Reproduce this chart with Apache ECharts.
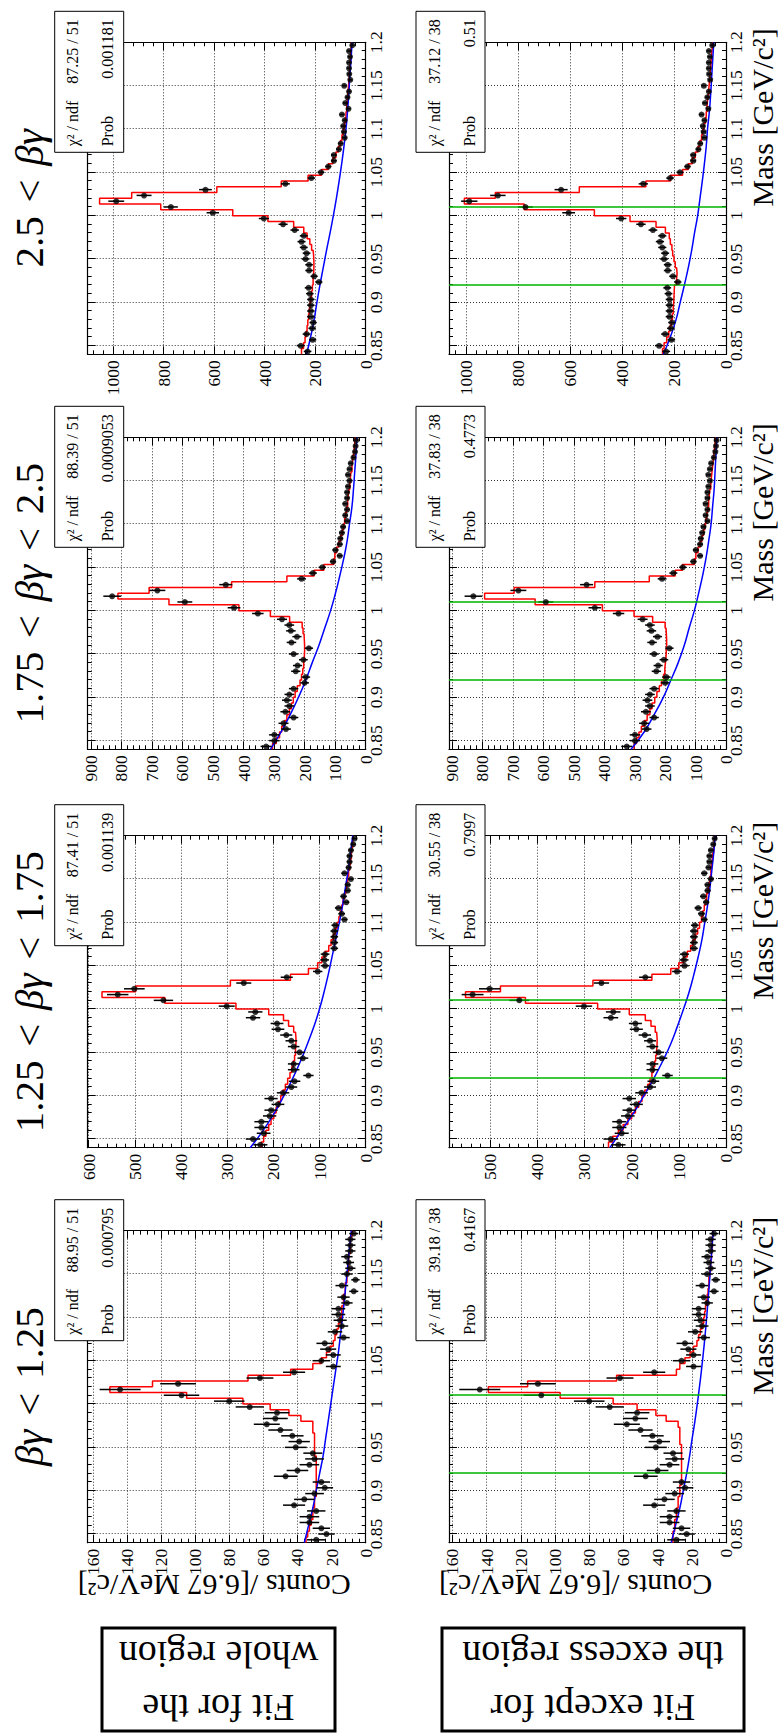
<!DOCTYPE html>
<html>
<head>
<meta charset="utf-8">
<script src="https://cdn.jsdelivr.net/npm/echarts@6/dist/echarts.min.js"></script>
<style>
html,body{margin:0;padding:0;background:#fff;width:778px;height:1733px;overflow:hidden;}
#chart{position:absolute;left:0;top:0;width:1733px;height:778px;transform-origin:0 0;transform:translateY(1733px) rotate(-90deg);}
</style>
</head>
<body>
<div id="chart"></div>
<script>
// ---------------- DATA ----------------
const massMin = 0.84, massMax = 1.2, nBins = 54;
const binTitles = ['βγ < 1.25', '1.25 < βγ < 1.75', '1.75 < βγ < 2.5', '2.5 < βγ'];
const rowLabels = [['Fit for the', 'whole region'], ['Fit except for', 'the excess region']];
const exclusionRange = [0.92, 1.00667];

// measured counts per 6.67 MeV bin (54 bins, 0.84 - 1.2 GeV)
const counts_bg0 = [29, 23, 26, 33, 33, 29, 42, 36, 30, 24, 26, 47, 40, 33, 30, 31, 41, 39, 43, 50, 58, 53, 52, 68, 80, 108, 144, 110, 62, 42, 19, 26, 19, 22, 24, 13, 18, 14, 15, 16, 16, 11, 13, 7, 14, 6, 11, 9, 10, 11, 9, 9, 9, 7];
const counts_bg1 = [228, 244, 221, 226, 226, 208, 205, 190, 205, 179, 161, 154, 124, 156, 156, 136, 143, 156, 161, 172, 190, 192, 244, 239, 301, 438, 537, 501, 264, 171, 104, 88, 89, 88, 68, 68, 68, 68, 66, 46, 52, 59, 42, 48, 39, 39, 32, 46, 37, 35, 35, 32, 27, 24];
const counts_bg2 = [326, 299, 299, 261, 269, 236, 263, 250, 258, 250, 236, 200, 196, 229, 223, 204, 236, 186, 243, 225, 245, 250, 274, 353, 431, 592, 830, 682, 458, 210, 173, 142, 107, 85, 99, 85, 83, 78, 74, 61, 67, 61, 67, 61, 61, 58, 53, 58, 53, 49, 40, 35, 33, 31];
const counts_bg3 = [230, 257, 210, 234, 212, 208, 217, 217, 217, 217, 221, 226, 185, 204, 224, 224, 238, 234, 245, 254, 245, 281, 327, 403, 605, 771, 987, 877, 634, 318, 215, 177, 148, 126, 126, 106, 99, 83, 86, 89, 83, 94, 68, 81, 72, 66, 85, 61, 65, 66, 66, 62, 66, 53];

// fitted total (red, per bin)
const fitWhole_bg0 = [35, 34, 33, 32, 31, 31, 30, 30, 29, 29, 29, 29, 29, 29, 29, 30, 30, 30, 30, 31, 31, 38, 45, 56, 72, 105, 150, 125, 69, 44, 31, 26, 23, 21, 19, 18, 17, 16, 15, 14, 14, 13, 13, 12, 12, 11, 11, 10, 10, 10, 9, 9, 9, 8];
const fitExcl_bg0 = [31, 31, 30, 30, 29, 29, 28, 28, 27, 27, 26, 26, 26, 26, 26, 26, 26, 27, 27, 27, 28, 35, 41, 52, 66, 97, 139, 116, 64, 29, 27, 24, 21, 19, 17, 16, 15, 14, 13, 12.5, 12, 11.5, 11, 10.5, 10, 10, 9.5, 9, 9, 8.5, 8.5, 8, 8, 7.5];
const fitWhole_bg1 = [226, 221, 216, 210, 205, 199, 194, 189, 184, 179, 174, 169, 164, 160, 157, 154, 152, 151, 151, 152, 156, 167, 178, 210, 281, 435, 571, 498, 293, 163, 124, 104, 95, 88, 80, 75, 70, 66, 62, 58, 55, 52, 49, 46, 43, 41, 39, 37, 35, 33, 31, 30, 28, 27];
const fitExcl_bg1 = [249, 240, 228, 218, 208, 200, 192, 185, 178, 172, 166, 161, 157, 154, 151, 149, 147, 146, 146, 147, 150, 159, 171, 205, 272, 425, 552, 478, 282, 157, 117, 100, 90, 82, 75, 70, 65, 60, 56, 52, 49, 46, 43, 41, 38, 36, 34, 32, 31, 29, 28, 26, 25, 24];
const fitWhole_bg2 = [305, 293, 282, 275, 266, 258, 250, 243, 237, 231, 224, 215, 210, 206, 203, 201, 200, 200, 201, 202, 205, 208, 249, 312, 415, 644, 811, 709, 439, 258, 169, 137, 105, 101, 95, 88, 82, 77, 73, 69, 66, 62, 59, 57, 55, 52, 50, 48, 45, 43, 41, 38, 36, 34];
const fitExcl_bg2 = [302, 294, 286, 278, 268, 259, 250, 243, 234, 227, 219, 212, 205, 201, 199, 197, 196, 195, 195, 196, 197, 200, 241, 302, 406, 627, 793, 696, 431, 252, 167, 143, 104, 99, 92, 85, 79, 74, 70, 66, 63, 60, 57, 55, 53, 50, 48, 46, 44, 42, 40, 38, 36, 34];
const fitWhole_bg3 = [254, 246, 240, 236, 232, 229, 226, 223, 220, 217, 214, 211, 208, 206, 205, 205, 206, 208, 214, 221, 232, 245, 285, 387, 526, 811, 1053, 926, 589, 334, 228, 175, 148, 130, 118, 108, 100, 94, 89, 85, 81, 78, 75, 73, 71, 69, 67, 65, 64, 62, 61, 60, 58, 56];
const fitExcl_bg3 = [244, 238, 228, 220, 215, 210, 206, 203, 201, 200, 199, 198, 190, 188, 190, 195, 200, 205, 208, 214, 218, 233, 269, 369, 506, 776, 1006, 887, 564, 308, 214, 167, 145, 130, 118, 108, 100, 94, 89, 85, 79, 76, 73, 71, 69, 66, 64, 62, 60, 58, 57, 55, 53, 52];

// background component (blue), sampled every 0.02 GeV
const bkgMass = [0.84, 0.86, 0.88, 0.90, 0.92, 0.94, 0.96, 0.98, 1.00, 1.02, 1.04, 1.06, 1.08, 1.10, 1.12, 1.14, 1.16, 1.18, 1.20];
const bkgWhole_bg0 = [36, 33.5, 31, 29, 27, 25, 23.5, 22, 20.5, 19, 17.5, 16, 14.8, 13.6, 12.5, 11.5, 10.5, 9.5, 8.5];
const bkgExcl_bg0 = [32, 29.5, 27, 25, 23, 21.3, 19.8, 18.2, 16.8, 15.5, 14.3, 13.2, 12.2, 11.3, 10.5, 9.7, 9.0, 8.2, 7.5];
const bkgWhole_bg1 = [250, 222, 198, 177, 158, 141, 126, 112, 100, 90, 81, 73, 65, 57, 50, 44, 38, 33, 28];
const bkgExcl_bg1 = [246, 221, 196, 174, 153, 134, 117, 103, 90, 78, 68, 59, 51, 45, 39, 34, 30, 26, 23];
const bkgWhole_bg2 = [312, 277, 247, 220, 196, 175, 153, 134, 115, 99, 85, 72, 61, 53, 45, 40, 36, 32, 29];
const bkgExcl_bg2 = [312, 269, 236, 206, 181, 157, 137, 121, 104, 90, 77, 66, 57, 49, 44, 39, 36, 33, 30];
const bkgWhole_bg3 = [234, 218, 204, 193, 181, 168, 155, 141, 128, 116, 105, 95, 86, 78, 72, 67, 63, 58, 54];
const bkgExcl_bg3 = [241, 214, 192, 176, 160, 145, 132, 121, 109, 100, 91, 83, 76, 71, 64, 59, 55, 51, 47];

const chi2Whole = ['88.95 / 51', '87.41 / 51', '88.39 / 51', '87.25 / 51'];
const probWhole = ['0.000795', '0.001139', '0.0009053', '0.001181'];
const chi2Excl = ['39.18 / 38', '30.55 / 38', '37.83 / 38', '37.12 / 38'];
const probExcl = ['0.4167', '0.7997', '0.4773', '0.51'];

const yMaxWhole = [163, 602, 910, 1100];
const yMaxExcl = [162, 587, 910, 1065];
const yStep = [20, 100, 100, 200];

const massTitle = 'Mass [GeV/c²]';
const countsTitle = 'Counts /[6.67 MeV/c²]';

// ---------------- LAYOUT (landscape frame, rotated by CSS) ----------------
const FONT = 'Liberation Serif, Times New Roman, serif';
const plotLeft = [190.3, 585.3, 983.7, 1378.7];
const plotW = 312;
const plotTop = [87.7, 449];
const plotH = [278, 277];

const counts = [counts_bg0, counts_bg1, counts_bg2, counts_bg3];
const fits = [[fitWhole_bg0, fitExcl_bg0], [fitWhole_bg1, fitExcl_bg1], [fitWhole_bg2, fitExcl_bg2], [fitWhole_bg3, fitExcl_bg3]];
const bkgs = [[bkgWhole_bg0, bkgExcl_bg0], [bkgWhole_bg1, bkgExcl_bg1], [bkgWhole_bg2, bkgExcl_bg2], [bkgWhole_bg3, bkgExcl_bg3]];
const yMax = [yMaxWhole, yMaxExcl];
const chi2 = [chi2Whole, chi2Excl];
const prob = [probWhole, probExcl];

const binWidth = (massMax - massMin) / nBins;

const grids = [], xAxes = [], yAxes = [], series = [], elements = [];

const tickLine = { color: '#000', width: 1 };
const frameLine = { color: '#000', width: 1.2 };
const gridLine = { color: '#333', width: 1, type: [1, 2] };
const labelStyle = { fontSize: 17.5, fontFamily: FONT, color: '#000' };

function massFmt(v) { return String(+v.toFixed(2)); }
function countFmt(v) { return String(Math.round(v)); }

for (let c = 0; c < 4; c++) {
  for (let r = 0; r < 2; r++) {
    const g = grids.length;
    grids.push({ left: plotLeft[c], top: plotTop[r], width: plotW, height: plotH[r], containLabel: false, outerBoundsMode: 'none', show: false });
    const xBase = {
      gridIndex: g, type: 'value', min: massMin, max: massMax, splitNumber: 7,
      axisLine: { show: true, onZero: false, lineStyle: frameLine },
      axisTick: { show: true, inside: true, length: 8, lineStyle: tickLine },
      minorTick: { show: true, splitNumber: 5, length: 4, lineStyle: tickLine },
      minorSplitLine: { show: false }
    };
    xAxes.push(Object.assign({}, xBase, {
      position: 'bottom',
      axisLabel: Object.assign({ show: true, showMinLabel: false, margin: 1, formatter: massFmt }, labelStyle),
      splitLine: { show: true, lineStyle: gridLine }
    }));
    xAxes.push(Object.assign({}, xBase, { position: 'top', axisLabel: { show: false }, splitLine: { show: false } }));
    const yBase = {
      gridIndex: g, type: 'value', min: 0, max: yMax[r][c], interval: yStep[c],
      axisLine: { show: true, onZero: false, lineStyle: frameLine },
      axisTick: { show: true, inside: true, length: 8, lineStyle: tickLine },
      minorTick: { show: true, splitNumber: 5, length: 4, lineStyle: tickLine },
      minorSplitLine: { show: false }
    };
    yAxes.push(Object.assign({}, yBase, {
      position: 'left',
      axisLabel: Object.assign({ show: true, showMinLabel: true, showMaxLabel: false, margin: 6, formatter: countFmt, hideOverlap: false }, labelStyle),
      splitLine: { show: true, lineStyle: gridLine }
    }));
    yAxes.push(Object.assign({}, yBase, { position: 'right', axisLabel: { show: false }, splitLine: { show: false } }));

    const xi = 2 * g, yi = 2 * g;
    const pts = counts[c].map((v, i) => [massMin + (i + 0.5) * binWidth, v]);
    // fitted total (red step)
    const f = fits[c][r];
    const stepData = f.map((v, i) => [massMin + i * binWidth, v]);
    stepData.push([massMax, f[f.length - 1]]);
    const redSeries = {
      type: 'line', xAxisIndex: xi, yAxisIndex: yi, data: stepData, step: 'end',
      showSymbol: false, symbol: 'none', lineStyle: { color: '#ff0000', width: 1.5 }, z: 3, silent: true
    };
    if (r === 1) {
      redSeries.markLine = {
        silent: true, symbol: 'none', label: { show: false },
        lineStyle: { color: '#00b400', width: 1.5, type: 'solid' },
        data: exclusionRange.map(v => ({ xAxis: v }))
      };
    }
    series.push(redSeries);
    // background (blue)
    series.push({
      type: 'line', xAxisIndex: xi, yAxisIndex: yi, smooth: true,
      data: bkgMass.map((m, i) => [m, bkgs[c][r][i]]),
      showSymbol: false, symbol: 'none', lineStyle: { color: '#0000ff', width: 1.5 }, z: 3, silent: true
    });
    // error bars (Poisson)
    series.push({
      type: 'custom', xAxisIndex: xi, yAxisIndex: yi, z: 4, silent: true,
      data: pts.map(p => [p[0], p[1], Math.sqrt(p[1])]),
      renderItem: function (params, api) {
        const x = api.value(0), y = api.value(1), e = api.value(2);
        const a = api.coord([x, y - e]), b = api.coord([x, y + e]);
        return { type: 'line', shape: { x1: a[0], y1: a[1], x2: b[0], y2: b[1] }, style: { stroke: '#000', lineWidth: 1.5 } };
      }
    });
    // data points
    series.push({
      type: 'scatter', xAxisIndex: xi, yAxisIndex: yi, data: pts, symbol: 'circle', symbolSize: 6,
      itemStyle: { color: '#000' }, z: 5, silent: true
    });

    // stat box
    const pr = plotLeft[c] + plotW;
    const pt = plotTop[r];
    elements.push({ type: 'rect', z: 100, shape: { x: pr - 110, y: pt - 33, width: 141, height: 69 },
      style: { fill: '#fff', stroke: '#000', lineWidth: 1 } });
    const st = (txt, x, y, al) => ({ type: 'text', z: 101, x: x, y: y,
      style: { text: txt, fontSize: 16, fontFamily: FONT, fill: '#000', align: al, textAlign: al, verticalAlign: 'middle', textVerticalAlign: 'middle' } });
    elements.push(st('χ² / ndf', pr - 104, pt - 15, 'left'));
    elements.push(st(chi2[r][c], pr + 23, pt - 15, 'right'));
    elements.push(st('Prob', pr - 104, pt + 20, 'left'));
    elements.push(st(prob[r][c], pr + 23, pt + 20, 'right'));

    if (r === 1) {
      elements.push({ type: 'text', z: 50, x: pr + 14, y: 762,
        style: { text: massTitle, fontSize: 30, fontFamily: FONT, fill: '#000', align: 'right', textAlign: 'right', verticalAlign: 'middle', textVerticalAlign: 'middle' } });
    }
    if (c === 0) {
      elements.push({ type: 'text', z: 50, x: 148, y: pt - 10, rotation: Math.PI / 2,
        style: { text: countsTitle, fontSize: 30, fontFamily: FONT, fill: '#000', align: 'right', textAlign: 'right', verticalAlign: 'middle', textVerticalAlign: 'middle' } });
    }
  }
  // column title (math-style spacing around "<")
  const rich = binTitles[c].replace(/ < /g, '\u2004<\u2004').split('βγ').map(s => s ? '{n|' + s + '}' : '').join('{g|βγ}');
  elements.push({ type: 'text', z: 50, x: plotLeft[c] + plotW / 2, y: 29,
    style: { text: rich, fill: '#000', align: 'center', textAlign: 'center', verticalAlign: 'middle', textVerticalAlign: 'middle',
      rich: { n: { fontSize: 41, fontFamily: FONT, fill: '#000' }, g: { fontSize: 41, fontFamily: FONT, fontStyle: 'italic', fill: '#000' } } } });
}

// row label boxes
const boxSpan = [[102, 335], [442, 744]];
for (let r = 0; r < 2; r++) {
  const y0 = boxSpan[r][0], y1 = boxSpan[r][1];
  elements.push({ type: 'rect', z: 50, shape: { x: 2, y: y0, width: 103, height: y1 - y0 },
    style: { fill: 'none', stroke: '#000', lineWidth: 3 } });
  const cy = (y0 + y1) / 2;
  [25, 78].forEach((x, k) => {
    elements.push({ type: 'text', z: 51, x: x, y: cy, rotation: Math.PI / 2,
      style: { text: rowLabels[r][k], fontSize: 38, fontFamily: FONT, fill: '#000', align: 'center', textAlign: 'center', verticalAlign: 'middle', textVerticalAlign: 'middle' } });
  });
}

const chart = echarts.init(document.getElementById('chart'), null, { renderer: 'svg', width: 1733, height: 778 });
chart.setOption({
  animation: false,
  backgroundColor: '#fff',
  grid: grids,
  xAxis: xAxes,
  yAxis: yAxes,
  series: series,
  graphic: { elements: elements }
});
</script>
</body>
</html>
